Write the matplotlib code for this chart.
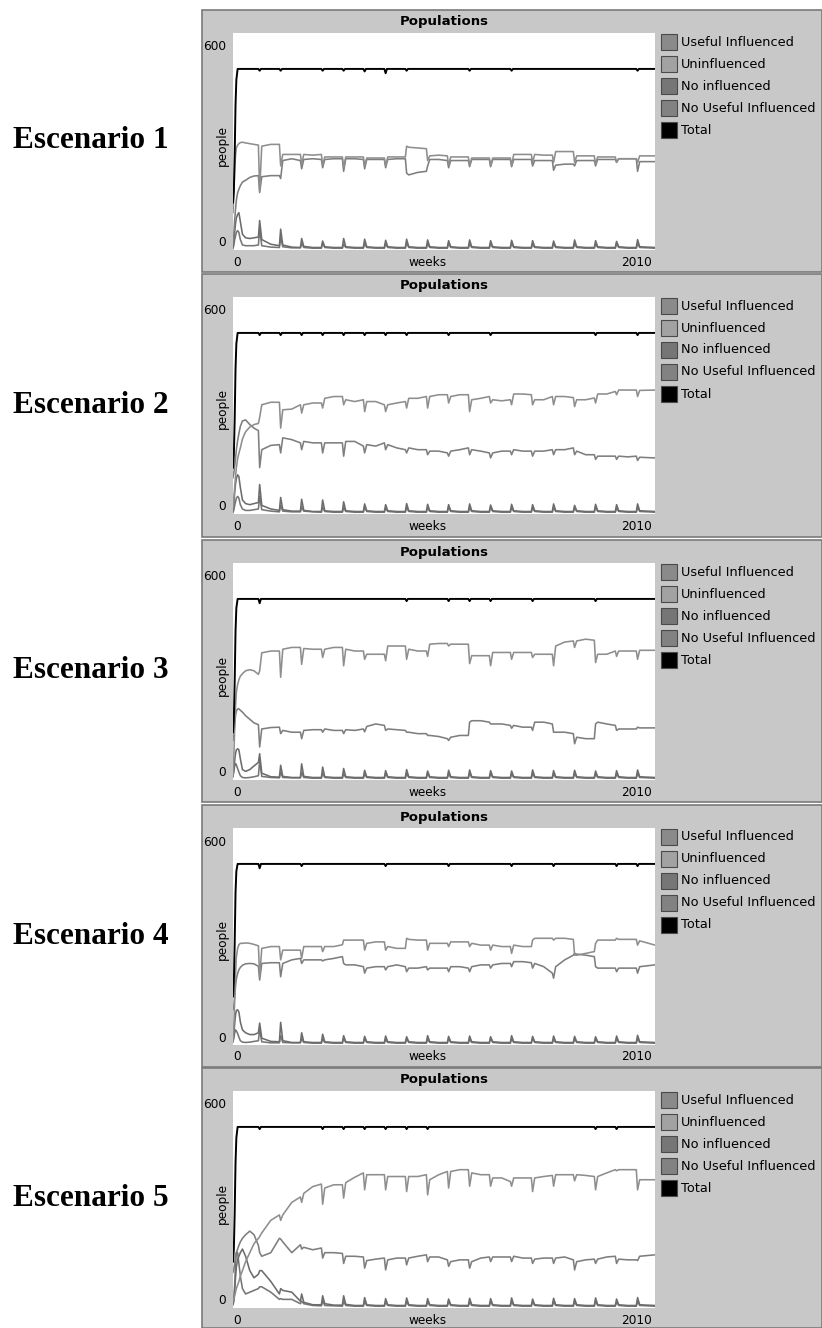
import matplotlib.pyplot as plt
from matplotlib.patches import Rectangle

W, H = 822, 1328

series_names = ['Useful Influenced', 'Uninfluenced', 'No influenced', 'No Useful Influenced', 'Total']
scenario_names = ['Escenario 1', 'Escenario 2', 'Escenario 3', 'Escenario 4', 'Escenario 5']

# sample weeks shared by the grey series (dense where the periodic dips happen)
weeks = [0, 4, 8, 12, 16, 22, 28, 35, 45, 60, 80, 100,
         121, 127, 137, 180, 221, 227, 237, 280, 321, 327, 337, 380,
         421, 427, 437, 480, 521, 527, 537, 580, 621, 627, 637, 680,
         721, 727, 737, 780, 821, 827, 837, 880, 921, 927, 937, 980,
         1021, 1027, 1037, 1080, 1121, 1127, 1137, 1180, 1221, 1227, 1237, 1280,
         1321, 1327, 1337, 1380, 1421, 1427, 1437, 1480, 1521, 1527, 1537, 1580,
         1621, 1627, 1637, 1680, 1721, 1727, 1737, 1780, 1821, 1827, 1837, 1880,
         1921, 1927, 1937, 2010]

# ---- Escenario 1
p1_uninf = [100, 150, 220, 260, 280, 288, 292, 295, 296, 294, 292, 290,
            288, 160, 285, 290, 290, 230, 262, 262, 262, 235, 262, 260,
            262, 232, 255, 255, 255, 225, 255, 255, 255, 230, 252, 252,
            252, 230, 255, 255, 255, 285, 282, 280, 278, 245, 258, 260,
            258, 232, 255, 255, 255, 232, 252, 252, 252, 230, 252, 252,
            252, 232, 262, 262, 262, 240, 262, 260, 260, 240, 270, 270,
            270, 240, 258, 258, 258, 235, 255, 255, 255, 240, 250, 250,
            250, 240, 258, 258]
p1_useful = [15, 40, 80, 110, 135, 155, 165, 175, 185, 190, 198, 202,
             203, 156, 200, 203, 203, 195, 245, 250, 245, 222, 248, 250,
             248, 225, 248, 250, 250, 215, 250, 250, 248, 222, 248, 248,
             248, 225, 248, 250, 250, 210, 205, 212, 215, 230, 248, 248,
             245, 225, 245, 245, 245, 228, 248, 248, 248, 228, 248, 248,
             248, 228, 248, 248, 248, 230, 245, 245, 245, 218, 232, 235,
             235, 230, 245, 245, 245, 230, 248, 248, 248, 240, 250, 250,
             250, 215, 242, 242]
p1_noinf = [5, 20, 45, 70, 85, 95, 100, 75, 40, 30, 28, 30,
            32, 78, 25, 12, 8, 54, 10, 4, 3, 28, 6, 3,
            3, 21, 5, 3, 3, 28, 5, 3, 3, 26, 5, 3,
            3, 23, 5, 3, 3, 26, 5, 3, 3, 24, 5, 3,
            3, 22, 5, 3, 3, 24, 5, 3, 3, 22, 5, 3,
            3, 23, 5, 3, 3, 22, 5, 3, 3, 21, 5, 3,
            3, 24, 5, 3, 3, 22, 5, 3, 3, 20, 5, 3,
            3, 25, 5, 3]
p1_nouseful = [0, 10, 25, 35, 45, 50, 45, 25, 10, 8, 8, 8,
               10, 55, 8, 4, 3, 30, 5, 2, 2, 14, 3, 1,
               1, 16, 3, 1, 1, 12, 3, 1, 1, 15, 3, 1,
               1, 13, 3, 1, 1, 16, 3, 1, 1, 14, 3, 1,
               1, 15, 3, 1, 1, 13, 3, 1, 1, 14, 3, 1,
               1, 16, 3, 1, 1, 12, 3, 1, 1, 15, 3, 1,
               1, 14, 3, 1, 1, 13, 3, 1, 1, 15, 3, 1,
               1, 14, 3, 1]
t1_weeks = [0, 4, 8, 12, 16, 22, 121, 127, 133, 221, 227, 233, 421, 427, 433,
            521, 527, 533, 621, 627, 633, 721, 727, 733, 821, 827, 833,
            1121, 1127, 1133, 1321, 1327, 1333, 1921, 1927, 1933, 2010]
t1_total = [128, 160, 260, 400, 470, 500, 500, 495, 500, 500, 495, 500, 500, 495, 500,
            500, 495, 500, 500, 493, 500, 500, 488, 500, 500, 495, 500,
            500, 495, 500, 500, 495, 500, 500, 495, 500, 500]

# ---- Escenario 2
p2_uninf = [14, 40, 70, 100, 125, 150, 165, 180, 205, 225, 238, 245,
            248, 265, 300, 307, 307, 235, 286, 288, 300, 277, 300, 305,
            305, 291, 318, 323, 323, 300, 314, 309, 314, 281, 309, 309,
            300, 281, 300, 305, 309, 291, 318, 318, 323, 291, 323, 328,
            328, 305, 323, 328, 328, 281, 314, 318, 323, 305, 314, 311,
            314, 300, 330, 330, 328, 300, 314, 314, 323, 300, 323, 323,
            320, 295, 314, 314, 319, 305, 330, 330, 337, 328, 341, 341,
            341, 323, 340, 341]
p2_useful = [97, 110, 130, 150, 175, 200, 220, 240, 255, 258, 245, 235,
             228, 125, 175, 187, 189, 166, 208, 203, 194, 175, 198, 194,
             194, 166, 194, 194, 194, 157, 198, 198, 185, 166, 189, 185,
             194, 175, 189, 180, 175, 166, 180, 175, 175, 161, 171, 171,
             166, 157, 171, 175, 180, 161, 175, 171, 166, 152, 166, 171,
             171, 161, 175, 171, 171, 157, 171, 171, 175, 161, 175, 175,
             180, 161, 171, 161, 161, 148, 157, 157, 157, 148, 157, 155,
             157, 145, 154, 152]
p2_noinf = [5, 25, 55, 80, 95, 105, 100, 70, 35, 25, 22, 25,
            28, 78, 20, 10, 6, 42, 8, 4, 4, 37, 6, 3,
            3, 35, 5, 3, 3, 30, 5, 3, 3, 24, 5, 3,
            3, 22, 5, 3, 3, 25, 5, 3, 3, 23, 5, 3,
            3, 22, 5, 3, 3, 24, 5, 3, 3, 21, 5, 3,
            3, 23, 5, 3, 3, 22, 5, 3, 3, 24, 5, 3,
            3, 20, 5, 3, 3, 23, 5, 3, 3, 22, 5, 3,
            3, 24, 5, 3]
p2_nouseful = [0, 8, 20, 30, 40, 45, 40, 22, 10, 6, 6, 8,
               10, 45, 8, 4, 2, 20, 4, 2, 2, 16, 4, 2,
               1, 15, 3, 1, 1, 14, 3, 1, 1, 16, 3, 1,
               1, 13, 3, 1, 1, 15, 3, 1, 1, 14, 3, 1,
               1, 16, 3, 1, 1, 13, 3, 1, 1, 15, 3, 1,
               1, 14, 3, 1, 1, 13, 3, 1, 1, 15, 3, 1,
               1, 14, 3, 1, 1, 16, 3, 1, 1, 13, 3, 1,
               1, 15, 3, 1]
t2_weeks = [0, 4, 8, 12, 16, 22, 121, 127, 133, 221, 227, 233, 321, 327, 333,
            421, 427, 433, 521, 527, 533, 621, 627, 633, 721, 727, 733,
            821, 827, 833, 1021, 1027, 1033, 1221, 1227, 1233, 1721, 1727, 1733,
            1921, 1927, 1933, 2010]
t2_total = [125, 160, 260, 400, 470, 500, 500, 494, 500, 500, 494, 500, 500, 494, 500,
            500, 494, 500, 500, 494, 500, 500, 494, 500, 500, 494, 500,
            500, 494, 500, 500, 494, 500, 500, 494, 500, 500, 494, 500,
            500, 494, 500, 500]

# ---- Escenario 3
p3_uninf = [10, 60, 140, 200, 240, 262, 275, 285, 292, 300, 303, 300,
            290, 300, 350, 355, 355, 282, 360, 365, 365, 318, 362, 360,
            360, 337, 360, 365, 365, 314, 360, 355, 355, 332, 346, 346,
            346, 328, 369, 369, 369, 332, 360, 355, 355, 340, 374, 376,
            376, 369, 374, 374, 374, 320, 342, 342, 342, 314, 351, 351,
            351, 332, 351, 351, 351, 337, 346, 346, 346, 314, 369, 380,
            383, 365, 383, 388, 385, 323, 346, 346, 355, 340, 355, 355,
            355, 332, 357, 357]
p3_useful = [106, 120, 150, 175, 188, 194, 194, 190, 185, 175, 165, 155,
             150, 88, 138, 142, 143, 125, 134, 129, 129, 111, 134, 136,
             136, 129, 138, 134, 134, 125, 136, 134, 138, 130, 145, 152,
             148, 134, 138, 136, 134, 129, 129, 125, 125, 120, 120, 117,
             111, 106, 115, 120, 120, 157, 161, 161, 157, 152, 152, 152,
             148, 140, 148, 143, 143, 134, 157, 157, 152, 129, 129, 129,
             125, 97, 115, 111, 111, 152, 157, 152, 148, 134, 138, 138,
             138, 143, 141, 141]
p3_noinf = [5, 25, 50, 70, 80, 83, 80, 55, 25, 20, 25, 35,
            45, 69, 15, 5, 4, 37, 6, 3, 3, 41, 6, 3,
            3, 32, 5, 3, 3, 28, 5, 3, 3, 23, 5, 3,
            3, 22, 5, 3, 3, 25, 5, 3, 3, 21, 5, 3,
            3, 23, 5, 3, 3, 24, 5, 3, 3, 22, 5, 3,
            3, 21, 5, 3, 3, 24, 5, 3, 3, 22, 5, 3,
            3, 23, 5, 3, 3, 21, 5, 3, 3, 22, 5, 3,
            3, 24, 5, 3]
p3_nouseful = [9, 20, 35, 42, 38, 28, 18, 8, 3, 2, 3, 5,
               8, 50, 6, 3, 2, 18, 3, 2, 2, 17, 3, 1,
               1, 15, 3, 1, 1, 14, 3, 1, 1, 13, 3, 1,
               1, 15, 3, 1, 1, 14, 3, 1, 1, 16, 3, 1,
               1, 13, 3, 1, 1, 15, 3, 1, 1, 14, 3, 1,
               1, 13, 3, 1, 1, 15, 3, 1, 1, 14, 3, 1,
               1, 16, 3, 1, 1, 13, 3, 1, 1, 14, 3, 1,
               1, 15, 3, 1]
t3_weeks = [0, 4, 8, 12, 16, 22, 121, 127, 133, 821, 827, 833, 1021, 1027, 1033,
            1121, 1127, 1133, 1221, 1227, 1233, 1421, 1427, 1433, 1721, 1727, 1733, 2010]
t3_total = [129, 165, 270, 410, 475, 500, 500, 488, 500, 500, 494, 500, 500, 494, 500,
            500, 494, 500, 500, 494, 500, 500, 494, 500, 500, 494, 500, 500]

# ---- Escenario 4
p4_uninf = [6, 50, 120, 190, 240, 265, 275, 279, 279, 280, 279, 276,
            272, 186, 265, 270, 270, 233, 260, 260, 260, 237, 270, 270,
            270, 256, 270, 270, 275, 288, 288, 288, 288, 260, 279, 283,
            283, 260, 270, 265, 265, 293, 290, 288, 288, 260, 279, 279,
            279, 270, 283, 283, 283, 270, 279, 274, 274, 260, 274, 270,
            270, 251, 274, 270, 270, 288, 293, 293, 293, 288, 293, 293,
            290, 246, 246, 251, 256, 279, 288, 288, 288, 293, 290, 290,
            290, 274, 286, 274]
p4_useful = [94, 105, 130, 160, 180, 195, 205, 212, 218, 222, 223, 222,
             215, 177, 223, 225, 225, 186, 223, 233, 237, 223, 233, 233,
             233, 230, 233, 237, 242, 223, 219, 219, 214, 196, 210, 214,
             214, 205, 214, 219, 214, 200, 210, 210, 214, 205, 210, 210,
             210, 200, 214, 214, 210, 200, 214, 219, 219, 210, 219, 223,
             223, 214, 228, 228, 225, 210, 223, 214, 196, 182, 214, 233,
             246, 251, 249, 246, 242, 214, 210, 210, 210, 200, 210, 210,
             210, 196, 214, 219]
p4_noinf = [5, 25, 55, 80, 92, 94, 88, 60, 38, 30, 25, 25,
            30, 57, 15, 6, 5, 59, 8, 3, 3, 30, 5, 3,
            3, 26, 5, 3, 3, 22, 5, 3, 3, 20, 5, 3,
            3, 21, 5, 3, 3, 19, 5, 3, 3, 22, 5, 3,
            3, 20, 5, 3, 3, 21, 5, 3, 3, 19, 5, 3,
            3, 22, 5, 3, 3, 20, 5, 3, 3, 21, 5, 3,
            3, 20, 5, 3, 3, 19, 5, 3, 3, 21, 5, 3,
            3, 23, 5, 3]
p4_nouseful = [6, 15, 30, 38, 35, 28, 18, 8, 4, 3, 4, 6,
               8, 40, 5, 2, 2, 22, 3, 2, 2, 14, 3, 1,
               1, 13, 3, 1, 1, 15, 3, 1, 1, 14, 3, 1,
               1, 12, 3, 1, 1, 14, 3, 1, 1, 13, 3, 1,
               1, 15, 3, 1, 1, 12, 3, 1, 1, 14, 3, 1,
               1, 13, 3, 1, 1, 15, 3, 1, 1, 12, 3, 1,
               1, 14, 3, 1, 1, 13, 3, 1, 1, 14, 3, 1,
               1, 15, 3, 1]
t4_weeks = [0, 4, 8, 12, 16, 22, 121, 127, 133, 321, 327, 333, 721, 727, 733,
            1021, 1027, 1033, 1321, 1327, 1333, 1521, 1527, 1533, 1821, 1827, 1833,
            1921, 1927, 1933, 2010]
t4_total = [131, 170, 280, 420, 480, 500, 500, 488, 500, 500, 494, 500, 500, 494, 500,
            500, 494, 500, 500, 494, 500, 500, 494, 500, 500, 494, 500,
            500, 494, 500, 500]

# ---- Escenario 5
p5_uninf = [15, 20, 30, 40, 50, 60, 70, 85, 100, 125, 150, 175,
            190, 195, 205, 240, 255, 240, 255, 290, 305, 290, 315, 334,
            341, 285, 330, 339, 339, 302, 345, 360, 372, 325, 367, 367,
            367, 325, 362, 362, 362, 320, 362, 362, 367, 311, 353, 367,
            376, 330, 376, 381, 381, 335, 372, 367, 367, 335, 358, 358,
            348, 335, 358, 358, 358, 320, 358, 362, 365, 335, 367, 367,
            367, 350, 367, 365, 362, 325, 362, 372, 381, 378, 381, 381,
            381, 325, 353, 353]
p5_useful = [95, 105, 120, 140, 150, 160, 170, 180, 190, 200, 210, 200,
             170, 150, 140, 150, 190, 188, 180, 150, 172, 160, 165, 158,
             163, 135, 150, 150, 148, 120, 140, 140, 138, 107, 128, 132,
             135, 102, 130, 135, 135, 116, 135, 140, 144, 125, 138, 138,
             130, 112, 125, 130, 130, 107, 125, 135, 138, 125, 138, 138,
             138, 125, 140, 135, 135, 120, 132, 135, 135, 120, 135, 138,
             130, 102, 125, 130, 132, 120, 132, 138, 140, 120, 132, 130,
             130, 128, 140, 144]
p5_noinf = [5, 15, 45, 80, 110, 130, 140, 150, 160, 140, 100, 80,
            90, 100, 100, 70, 35, 50, 45, 40, 15, 35, 12, 5,
            5, 30, 8, 4, 4, 30, 6, 3, 3, 25, 5, 3,
            3, 22, 5, 3, 3, 24, 5, 3, 3, 22, 5, 3,
            3, 21, 5, 3, 3, 23, 5, 3, 3, 22, 5, 3,
            3, 24, 5, 3, 3, 21, 5, 3, 3, 23, 5, 3,
            3, 22, 5, 3, 3, 24, 5, 3, 3, 21, 5, 3,
            3, 25, 5, 3]
p5_nouseful = [10, 20, 60, 120, 150, 150, 120, 85, 50, 35, 40, 45,
               50, 55, 55, 40, 20, 22, 20, 20, 8, 15, 8, 3,
               2, 16, 3, 2, 1, 15, 3, 1, 1, 14, 3, 1,
               1, 13, 3, 1, 1, 15, 3, 1, 1, 14, 3, 1,
               1, 16, 3, 1, 1, 13, 3, 1, 1, 15, 3, 1,
               1, 14, 3, 1, 1, 13, 3, 1, 1, 15, 3, 1,
               1, 14, 3, 1, 1, 16, 3, 1, 1, 13, 3, 1,
               1, 15, 3, 1]
t5_weeks = [0, 4, 8, 12, 16, 22, 121, 127, 133, 421, 427, 433, 521, 527, 533,
            621, 627, 633, 721, 727, 733, 821, 827, 833, 921, 927, 933,
            1721, 1727, 1733, 1821, 1827, 1833, 2010]
t5_total = [125, 160, 260, 400, 470, 500, 500, 494, 500, 500, 494, 500, 500, 494, 500,
            500, 494, 500, 500, 494, 500, 500, 494, 500, 500, 494, 500,
            500, 494, 500, 500, 494, 500, 500]

panels = [
    (p1_useful, p1_uninf, p1_noinf, p1_nouseful, t1_weeks, t1_total),
    (p2_useful, p2_uninf, p2_noinf, p2_nouseful, t2_weeks, t2_total),
    (p3_useful, p3_uninf, p3_noinf, p3_nouseful, t3_weeks, t3_total),
    (p4_useful, p4_uninf, p4_noinf, p4_nouseful, t4_weeks, t4_total),
    (p5_useful, p5_uninf, p5_noinf, p5_nouseful, t5_weeks, t5_total),
]

line_colors = ['#7e7e7e', '#8e8e8e', '#6c6c6c', '#767676', '#000000']
box_colors = ['#8a8a8a', '#a2a2a2', '#767676', '#828282', '#000000']

panel_top = [10, 274, 540, 805, 1068]
panel_bot = [272, 537, 802, 1067, 1328]


def fx(px):
    return px / W


def fy(py):
    return 1 - py / H


fig = plt.figure(figsize=(W / 100, H / 100), dpi=100)
fig.patch.set_facecolor('white')

for i, (useful, uninf, noinf, nouseful, tw, total) in enumerate(panels):
    T, B = panel_top[i], panel_bot[i]
    # grey widget background, kept behind the plot area
    fig.patches.append(Rectangle((fx(202), fy(B)), (W - 202) / W, (B - T) / H,
                                 transform=fig.transFigure, facecolor='#c8c8c8',
                                 edgecolor='#7a7a7a', lw=1.2, zorder=-10))

    ax = fig.add_axes([fx(233), fy(T + 240), 422 / W, 217 / H])
    ax.set_facecolor('white')
    for s in ax.spines.values():
        s.set_visible(False)
    ax.set_xticks([])
    ax.set_yticks([])
    ax.plot(weeks, nouseful, color=line_colors[3], lw=1.15)
    ax.plot(weeks, noinf, color=line_colors[2], lw=1.15)
    ax.plot(weeks, useful, color=line_colors[0], lw=1.15)
    ax.plot(weeks, uninf, color=line_colors[1], lw=1.15)
    ax.plot(tw, total, color=line_colors[4], lw=1.4)
    ax.set_xlim(0, 2010)
    ax.set_ylim(-4, 600)

    fig.text(fx(444), fy(T + 12), 'Populations', ha='center', va='center',
             fontsize=9.5, fontweight='bold')
    fig.text(fx(226), fy(T + 37), '600', ha='right', va='center', fontsize=8.7)
    fig.text(fx(226), fy(T + 233), '0', ha='right', va='center', fontsize=8.7)
    fig.text(fx(233), fy(T + 252), '0', ha='left', va='center', fontsize=8.7)
    fig.text(fx(652), fy(T + 252), '2010', ha='right', va='center', fontsize=8.7)
    fig.text(fx(428), fy(T + 252), 'weeks', ha='center', va='center', fontsize=8.7)
    fig.text(fx(222), fy(T + 135), 'people', rotation=90, ha='center', va='center',
             fontsize=8.7)

    # legend
    for j, name in enumerate(series_names):
        yc = T + 32 + 22 * j
        fig.patches.append(Rectangle((fx(661), fy(yc + 8)), 16 / W, 16 / H,
                                     transform=fig.transFigure, facecolor=box_colors[j],
                                     edgecolor='#4a4a4a', lw=0.8))
        fig.text(fx(681), fy(yc), name, ha='left', va='center', fontsize=9.3)

    fig.text(fx(91), fy((T + B) / 2), scenario_names[i], ha='center', va='center',
             fontsize=22.5, fontweight='bold', family='Liberation Serif')

fig.savefig('out.png', dpi=100)
